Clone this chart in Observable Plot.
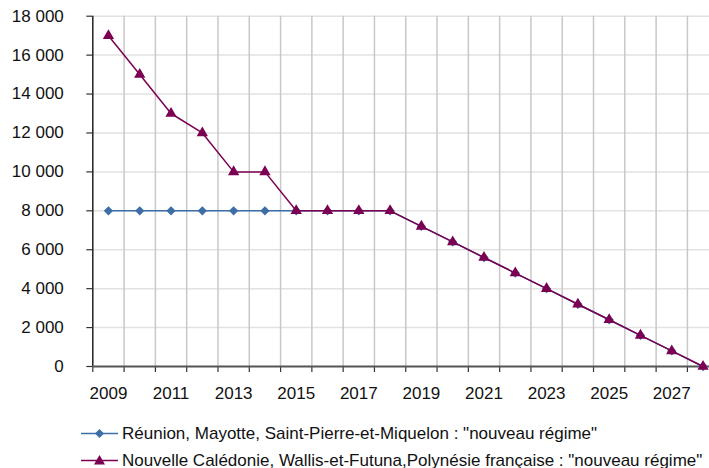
<!DOCTYPE html>
<html><head><meta charset="utf-8">
<script src="https://cdn.jsdelivr.net/npm/d3@7"></script>
<script src="https://cdn.jsdelivr.net/npm/@observablehq/plot@0.6"></script>
<style>
body{margin:0;background:#fff;font-family:"Liberation Sans",Arial,sans-serif;color:#111;}
#wrap{position:relative;width:709px;height:468px;overflow:hidden;}
#legend{position:absolute;left:81px;top:420px;font-size:17px;}
.row{display:flex;align-items:center;height:27px;white-space:nowrap;}
.row svg{display:block;margin-right:4px;}
</style></head><body><div id="wrap"><div id="chart"></div><div id="legend"></div></div>
<script>
const years = [2009,2010,2011,2012,2013,2014,2015,2016,2017,2018,2019,2020,2021,2022,2023,2024,2025,2026,2027,2028];
const reunionValues = [8000,8000,8000,8000,8000,8000,8000,8000,8000,8000,7200,6400,5600,4800,4000,3200,2400,1600,800,0];
const caledonieValues = [17000,15000,13000,12000,10000,10000,8000,8000,8000,8000,7200,6400,5600,4800,4000,3200,2400,1600,800,0];
const yTicks = [0,2000,4000,6000,8000,10000,12000,14000,16000,18000];
const xLabelYears = [2009,2011,2013,2015,2017,2019,2021,2023,2025,2027];
const seriesNames = ["Réunion, Mayotte, Saint-Pierre-et-Miquelon : \"nouveau régime\"", "Nouvelle Calédonie, Wallis-et-Futuna,Polynésie française : \"nouveau régime\""];
const seriesColors = ["#3d6fa6", "#7b0052"];
const seriesSymbols = ["diamond2", "triangle"];

const reunion = years.map((year, i) => ({year, value: reunionValues[i]}));
const caledonie = years.map((year, i) => ({year, value: caledonieValues[i]}));
const boundaries = [years[0] - 0.5, ...years.map(y => y + 0.5)];
const fmt = d => d3.format(",")(d).replace(/,/g, " ");

const chart = Plot.plot({
  width: 709,
  height: 410,
  marginLeft: 92.3,
  marginRight: 0,
  marginTop: 15.7,
  marginBottom: 44,
  style: {fontFamily: '"Liberation Sans", Arial, sans-serif', fontSize: "17px", color: "#111", background: "#fff", overflow: "hidden"},
  x: {type: "linear", domain: [boundaries[0], boundaries[boundaries.length - 1]], range: [92.3, 718.2]},
  y: {domain: [0, 18000], range: [366, 15.7]},
  marks: [
    Plot.ruleY(yTicks.slice(1), {stroke: "#e2e2e2", strokeWidth: 1.5}),
    Plot.ruleX(boundaries.slice(1), {stroke: "#c8c8c8", strokeWidth: 1.5}),
    Plot.axisY(yTicks, {tickSize: 6, tickPadding: 23, tickFormat: fmt, fontSize: 17, stroke: "#333", strokeWidth: 1.2, label: null}),
    Plot.axisX(boundaries, {tickSize: 6, tickFormat: () => "", stroke: "#333", strokeWidth: 1.2, label: null}),
    Plot.axisX(xLabelYears, {tickSize: 0, tickPadding: 20, tickFormat: d => String(d), fontSize: 17, label: null}),
    Plot.ruleX([boundaries[0]], {stroke: "#222", strokeWidth: 1.5}),
    Plot.ruleY([0], {stroke: "#555", strokeWidth: 2}),
    Plot.line(reunion, {x: "year", y: "value", stroke: seriesColors[0], strokeWidth: 1.5}),
    Plot.dot(reunion, {x: "year", y: "value", symbol: seriesSymbols[0], r: 4.2, fill: seriesColors[0], stroke: null}),
    Plot.line(caledonie, {x: "year", y: "value", stroke: seriesColors[1], strokeWidth: 1.5}),
    Plot.dot(caledonie, {x: "year", y: "value", symbol: seriesSymbols[1], r: 4.2, fill: seriesColors[1], stroke: null})
  ]
});
document.getElementById("chart").appendChild(chart);

const legend = document.getElementById("legend");
seriesNames.forEach((name, i) => {
  const row = document.createElement("div");
  row.className = "row";
  const sym = seriesSymbols[i] === "triangle"
    ? '<path d="M18.5,4 L24,13.5 L13,13.5 Z" fill="' + seriesColors[i] + '"/>'
    : '<path d="M18.5,5 L23,9.5 L18.5,14 L14,9.5 Z" fill="' + seriesColors[i] + '"/>';
  row.innerHTML = '<svg width="37" height="19"><line x1="0" x2="37" y1="9.5" y2="9.5" stroke="' + seriesColors[i] + '" stroke-width="1.5"/>' + sym + '</svg><span></span>';
  row.querySelector("span").textContent = name;
  legend.appendChild(row);
});
</script>
</body></html>
